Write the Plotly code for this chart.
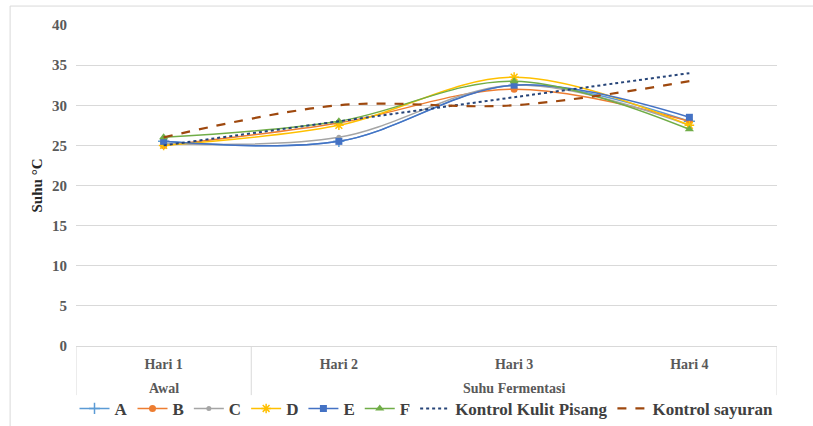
import plotly.graph_objects as go

# Temperature readings (°C) per day of fermentation
groups = ["Awal", "Suhu Fermentasi", "Suhu Fermentasi", "Suhu Fermentasi"]
days = ["Hari 1", "Hari 2", "Hari 3", "Hari 4"]

suhu_a = [25.5, 25.5, 32.5, 28.0]
suhu_b = [25.0, 27.8, 32.0, 28.0]
suhu_c = [25.2, 26.0, 32.5, 27.5]
suhu_d = [25.0, 27.5, 33.5, 27.5]
suhu_e = [25.5, 25.5, 32.5, 28.5]
suhu_f = [26.0, 28.0, 33.0, 27.0]
kontrol_kulit_pisang = [25.0, 28.0, 31.0, 34.0]
kontrol_sayuran = [26.0, 30.0, 30.0, 33.0]

series = [
    ("A", suhu_a, "#5B9BD5", dict(symbol="cross-thin-open", size=8, line=dict(width=1.5, color="#5B9BD5"))),
    ("B", suhu_b, "#ED7D31", dict(symbol="circle", size=7)),
    ("C", suhu_c, "#A5A5A5", dict(symbol="circle", size=5)),
    ("D", suhu_d, "#FFC000", dict(symbol="asterisk-open", size=8, line=dict(width=1.5, color="#FFC000"))),
    ("E", suhu_e, "#4472C4", dict(symbol="square", size=7)),
    ("F", suhu_f, "#70AD47", dict(symbol="triangle-up", size=8)),
]

serif = "Times New Roman, Liberation Serif, serif"
grid = "#D9D9D9"

fig = go.Figure()
for name, vals, color, marker in series:
    fig.add_trace(go.Scatter(
        x=days, y=vals, name=name, mode="lines+markers",
        line=dict(color=color, width=1.5, shape="spline", smoothing=1),
        marker=dict(color=color, **marker),
    ))

fig.add_trace(go.Scatter(
    x=days, y=kontrol_kulit_pisang, name="Kontrol Kulit Pisang", mode="lines",
    line=dict(color="#264478", width=2, dash="dot", shape="spline", smoothing=1),
))
fig.add_trace(go.Scatter(
    x=days, y=kontrol_sayuran, name="Kontrol sayuran", mode="lines",
    line=dict(color="#9E480E", width=2.2, dash="dash", shape="spline", smoothing=1),
))

# Second-level category labels (groups) and the dividers between them
spans = []
for i, g in enumerate(groups):
    if spans and spans[-1][0] == g:
        spans[-1][2] = i
    else:
        spans.append([g, i, i])

annotations = []
shapes = [dict(
    type="rect", xref="paper", yref="paper",
    x0=-0.094, x1=1.2, y0=-0.5, y1=1.059,
    line=dict(color=grid, width=1), fillcolor="rgba(0,0,0,0)", layer="below",
)]
edges = set()
for g, i0, i1 in spans:
    annotations.append(dict(
        text=g, xref="x", yref="paper", x=(i0 + i1) / 2, y=-0.131,
        xanchor="center", yanchor="middle", showarrow=False,
        font=dict(family=serif, size=14, color="#595959", weight="bold"),
    ))
    edges.update([i0 - 0.5, i1 + 0.5])
for e in sorted(edges):
    shapes.append(dict(
        type="line", xref="x", yref="paper", x0=e, x1=e, y0=0, y1=-0.153,
        line=dict(color=grid, width=1),
    ))

fig.update_layout(
    width=813, height=426,
    margin=dict(l=76, r=36, t=25, b=80, autoexpand=False),
    paper_bgcolor="white", plot_bgcolor="white",
    font=dict(family=serif, color="#595959"),
    showlegend=True,
    legend=dict(
        orientation="h", x=0.5, xanchor="center", y=-0.196, yanchor="middle",
        font=dict(family=serif, size=17, color="#404040", weight="bold"),
        itemwidth=30, tracegroupgap=0, bgcolor="rgba(0,0,0,0)",
    ),
    xaxis=dict(
        type="category", range=[-0.5, len(days) - 0.5], automargin=False,
        showgrid=False, zeroline=False,
        showline=False, ticks="", ticklabelstandoff=8,
        tickfont=dict(family=serif, size=14, color="#595959", weight="bold"),
    ),
    yaxis=dict(
        range=[0, 40], dtick=5, fixedrange=True, automargin=False,
        showgrid=True, gridcolor=grid, gridwidth=1,
        zeroline=True, zerolinecolor=grid, zerolinewidth=1,
        showline=False, ticks="", ticklabelstandoff=8,
        tickfont=dict(family=serif, size=15, color="#595959", weight="bold"),
        title=dict(text="Suhu °C", font=dict(family=serif, size=15, color="#262626", weight="bold"), standoff=5),
    ),
    shapes=shapes,
    annotations=annotations,
)

fig.write_html("out.html")
